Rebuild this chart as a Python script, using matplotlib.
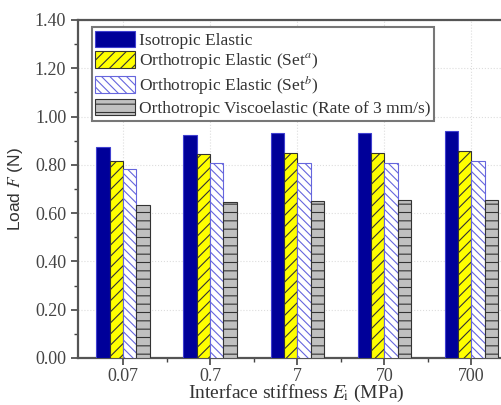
import numpy as np
import matplotlib
matplotlib.use("Agg")
import matplotlib.pyplot as plt
from matplotlib.ticker import MultipleLocator, FixedLocator, FormatStrFormatter

# =========================
# DATA
# =========================
categories = ["0.07", "0.7", "7", "70", "700"]

iso_elastic = [0.875, 0.924, 0.933, 0.933, 0.940]
ortho_set_a = [0.816, 0.845, 0.850, 0.850, 0.857]
ortho_set_b = [0.783, 0.808, 0.809, 0.809, 0.816]
ortho_visco = [0.634, 0.647, 0.650, 0.653, 0.655]

labels = [
    "Isotropic Elastic",
    "Orthotropic Elastic (Set$^{a}$)",
    "Orthotropic Elastic (Set$^{b}$)",
    "Orthotropic Viscoelastic (Rate of 3 mm/s)",
]

# =========================
# STYLE
# =========================
plt.rcParams["font.family"] = ["Liberation Serif", "DejaVu Serif"]
plt.rcParams["mathtext.fontset"] = "stix"
plt.rcParams["hatch.linewidth"] = 0.8

fig = plt.figure(figsize=(5.02, 4.05), dpi=100)
ax = fig.add_axes([78 / 502, 47 / 405, 437 / 502, 338 / 405])

x = np.arange(len(categories))
w = 0.153

ax.bar(x - 1.5 * w, iso_elastic, w, color="#000099", edgecolor="#4040d0",
       linewidth=0.8, label=labels[0], zorder=3)
ax.bar(x - 0.5 * w, ortho_set_a, w, color="#ffff00", edgecolor="#333333",
       hatch="///", linewidth=0.8, label=labels[1], zorder=3)
ax.bar(x + 0.5 * w, ortho_set_b, w, color="white", edgecolor="#6666dd",
       hatch="\\\\\\\\", linewidth=0.8, label=labels[2], zorder=3)
ax.bar(x + 1.5 * w, ortho_visco, w, color="#c0c0c0", edgecolor="#333333",
       hatch="--", linewidth=0.8, label=labels[3], zorder=3)

# =========================
# AXES
# =========================
ax.set_xlim(-0.517, 4.5)
ax.set_ylim(0, 1.4)
ax.set_xticks(x)
ax.set_xticklabels(categories)
ax.xaxis.set_minor_locator(FixedLocator(x[:-1] + 0.5))
ax.yaxis.set_major_locator(MultipleLocator(0.2))
ax.yaxis.set_minor_locator(MultipleLocator(0.1))
ax.yaxis.set_major_formatter(FormatStrFormatter("%.2f"))

ax.tick_params(axis="both", which="major", direction="out", length=5,
               width=1.2, color="#444444", labelsize=13, labelcolor="#444444")
ax.tick_params(axis="both", which="minor", direction="out", length=3,
               width=1.0, color="#444444")
ax.tick_params(axis="x", which="major", pad=2)
ax.tick_params(axis="x", which="both", top=False)
ax.tick_params(axis="y", which="both", right=False)

for side in ["left", "bottom", "top"]:
    ax.spines[side].set_color("#555555")
    ax.spines[side].set_linewidth(1.6)
ax.spines["right"].set_visible(False)

ax.grid(True, which="major", color="#dddddd", linestyle=":", linewidth=0.8,
        zorder=0)
ax.set_axisbelow(True)

ax.set_xlabel("Interface stiffness $E_{\\mathrm{i}}$ (MPa)", fontsize=14,
              color="#333333", labelpad=-1)
ax.set_ylabel("Load $F$ (N)", fontsize=12.5, color="#333333",
              family=["Liberation Sans", "DejaVu Sans"])
ax.yaxis.set_label_coords(-0.121, 0.5)

# =========================
# LEGEND
# =========================
leg = ax.legend(loc="upper left", bbox_to_anchor=(0.032, 0.979),
                borderaxespad=0, fontsize=12.5, handlelength=2.3,
                handleheight=1.1, labelspacing=0.12, handletextpad=0.2,
                borderpad=0.2, fancybox=False, framealpha=1,
                edgecolor="#777777")
leg.get_frame().set_linewidth(1.5)
for t in leg.get_texts():
    t.set_color("#333333")

fig.savefig("out.png", dpi=100)
